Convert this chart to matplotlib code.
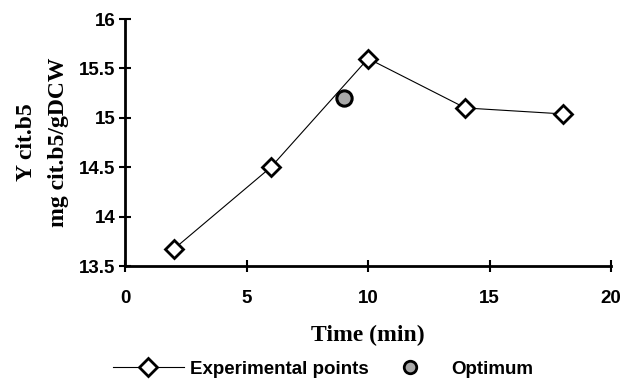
import numpy as np
import matplotlib
matplotlib.use('Agg')
import matplotlib.pyplot as plt
from matplotlib.lines import Line2D

# data
time_exp = [2, 6, 10, 14, 18]
y_exp = [13.67, 14.5, 15.6, 15.1, 15.04]
time_opt = [9]
y_opt = [15.2]
x_ticks = [0, 5, 10, 15, 20]
y_ticks = [13.5, 14, 14.5, 15, 15.5, 16]
y_tick_labels = ['13.5', '14', '14.5', '15', '15.5', '16']

plt.rcParams['font.family'] = 'Liberation Sans'
plt.rcParams['font.weight'] = 'bold'
plt.rcParams['font.size'] = 13.5

fig = plt.figure(figsize=(6.23, 3.85), dpi=100)
ax = fig.add_axes([0.2006, 0.309, 0.7805, 0.6415])

ax.plot(time_exp, y_exp, color='black', lw=0.8, marker='D', ms=9,
        mfc='white', mec='black', mew=2, zorder=3)
ax.plot(time_opt, y_opt, ls='none', marker='o', ms=11, mfc='#a8a8a8',
        mec='black', mew=2.2, zorder=4)

ax.set_xlim(0, 20)
ax.set_ylim(13.5, 16)
ax.set_xticks(x_ticks)
ax.set_yticks(y_ticks)
ax.set_yticklabels(y_tick_labels)

for s in ['top', 'right']:
    ax.spines[s].set_visible(False)
for s in ['left', 'bottom']:
    ax.spines[s].set_linewidth(2)
ax.tick_params(direction='inout', length=8, width=1.5)
ax.tick_params(axis='x', pad=13)
ax.tick_params(axis='y', pad=3)

ax.set_xlabel('Time (min)', family='Liberation Serif', fontweight='bold',
              fontsize=17, labelpad=13)
ax.set_ylabel('Y cit.b5\nmg cit.b5/gDCW', family='Liberation Serif',
              fontweight='bold', fontsize=17, labelpad=7, linespacing=1.7)

h1 = Line2D([], [], color='black', lw=0.8, marker='D', ms=9, mfc='white',
            mec='black', mew=2)
h2 = Line2D([], [], ls='none', marker='o', ms=9, mfc='#a8a8a8', mec='black', mew=2)
fig.legend([h1, h2], ['Experimental points', 'Optimum'], loc='lower left',
           bbox_to_anchor=(0.16, -0.015), ncol=2, frameon=False,
           prop={'family': 'Liberation Sans', 'weight': 'bold', 'size': 13.5},
           handlelength=3.8, handletextpad=0.3, columnspacing=0.3,
           borderaxespad=0.3)

fig.savefig('out.png', dpi=100)
